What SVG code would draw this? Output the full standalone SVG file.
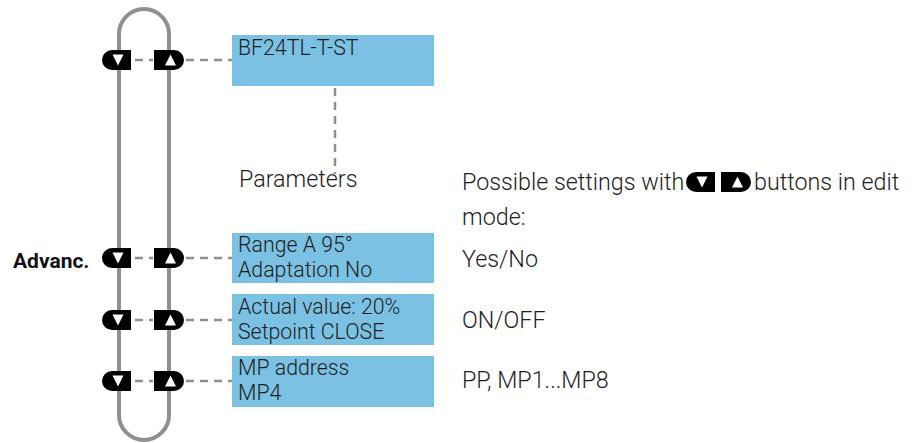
<svg xmlns="http://www.w3.org/2000/svg" width="919" height="443" viewBox="0 0 919 443">
<style>
.loop{fill:none;stroke:#8f8f8f;stroke-width:4}
.dash{fill:none;stroke:#8f8f8f;stroke-width:2.5;stroke-dasharray:8 6}
.box{fill:#7bc1e3}
.t{font-family:Roboto,"Liberation Sans",sans-serif;font-weight:300;font-size:21.3px;fill:#1e1e1e}
.o{font-family:Roboto,"Liberation Sans",sans-serif;font-weight:300;font-size:23.3px;fill:#1e1e1e}
.b{font-family:Roboto,"Liberation Sans",sans-serif;font-weight:700;font-size:21px;fill:#111}
.btn{fill:#000}
.tri{fill:#fff}
</style>
<defs>
<g id="btnDown">
<path class="btn" d="M29,-10 H10 A10,10 0 0 0 10,10 H29 Z"/>
<path class="tri" d="M10.5,-5.5 H21.5 L16,5.5 Z"/>
</g>
<g id="btnUp">
<path class="btn" d="M0,-10 H20 A10,10 0 0 1 20,10 H0 Z"/>
<path class="tri" d="M11,5.5 H22 L16.5,-5.5 Z"/>
</g>
</defs>
<g id="loop">
<path class="loop" d="M119,415 V34 A25,25 0 0 1 169,34 V415 A25,25 0 0 1 119,415"/>
</g>
<g id="connectors">
<path class="dash" d="M135,60 H153 M186,60 H232"/>
<path class="dash" d="M135,258 H153 M186,258 H232"/>
<path class="dash" d="M135,320 H153 M186,320 H232"/>
<path class="dash" d="M135,381 H153 M186,381 H232"/>
<path class="dash" d="M335,88 V174"/>
</g>
<g id="buttons">
<use href="#btnDown" x="102" y="60"/><use href="#btnUp" x="154" y="60"/>
<use href="#btnDown" x="102" y="258"/><use href="#btnUp" x="154" y="258"/>
<use href="#btnDown" x="102" y="320"/><use href="#btnUp" x="154" y="320"/>
<use href="#btnDown" x="102" y="381"/><use href="#btnUp" x="154" y="381"/>
</g>
<g id="node-device">
<rect class="box" x="232" y="35" width="202" height="51"/>
<text class="t" x="238" y="55">BF24TL-T-ST</text>
</g>
<g id="node-parameters">
<text class="o" x="239" y="187">Parameters</text>
</g>
<g id="node-range">
<rect class="box" x="232" y="233" width="202" height="50"/>
<text class="t" x="238" y="252">Range A 95°</text>
<text class="t" x="238" y="277">Adaptation No</text>
</g>
<g id="node-actual">
<rect class="box" x="232" y="294" width="202" height="51"/>
<text class="t" x="238" y="314">Actual value: 20%</text>
<text class="t" x="238" y="339">Setpoint CLOSE</text>
</g>
<g id="node-mp">
<rect class="box" x="232" y="356" width="202" height="51"/>
<text class="t" x="238" y="375">MP address</text>
<text class="t" x="238" y="400">MP4</text>
</g>
<g id="label-advanc">
<text class="b" x="13" y="268">Advanc.</text>
</g>
<g id="note">
<text class="o" x="462" y="190">Possible settings with</text>
<use href="#btnDown" x="686" y="182"/>
<use href="#btnUp" x="721" y="182"/>
<text class="o" x="754" y="190">buttons in edit</text>
<text class="o" x="462" y="225">mode:</text>
</g>
<g id="values">
<text class="o" x="462" y="267">Yes/No</text>
<text class="o" x="462" y="328">ON/OFF</text>
<text class="o" x="462" y="388">PP, MP1...MP8</text>
</g>
</svg>
